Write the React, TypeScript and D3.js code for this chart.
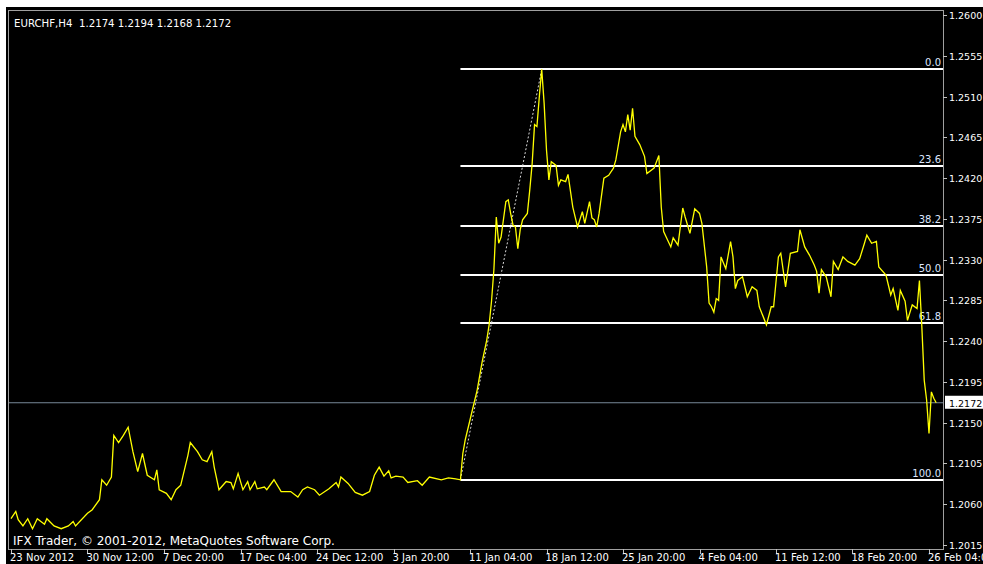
import React from "react";
import * as d3 from "d3";

// H4 close prices (bar index from 23 Nov 2012 00:00)
const barIdx = [
  0, 2, 3, 5, 7, 9, 11, 14, 15, 18, 21, 24, 26, 27, 32, 34, 37, 38, 40, 42,
  43, 45, 47, 49, 51, 53, 55, 57, 60, 61, 62, 65, 67, 69, 71, 74, 75, 78, 80, 82,
  84, 85, 87, 90, 92, 93, 95, 97, 99, 100, 102, 103, 106, 107, 110, 113, 117, 120, 122, 124,
  127, 129, 133, 136, 137, 138, 141, 144, 147, 150, 152, 154, 156, 158, 159, 161, 164, 166, 170, 172,
  175, 180, 183, 186, 188, 189, 190, 193, 195, 197, 199, 200, 201, 202, 203, 204, 205, 207, 208, 209,
  210, 211, 212, 213, 214, 216, 217, 218, 219, 220, 221, 222, 223, 224, 225, 226, 228, 229, 230, 232,
  233, 235, 236, 237, 239, 240, 242, 243, 244, 245, 246, 248, 250, 252, 253, 255, 256, 257, 258, 259,
  260, 261, 263, 265, 266, 269, 271, 272, 273, 276, 277, 279, 281, 282, 284, 286, 288, 289, 291, 292,
  293, 294, 295, 296, 297, 299, 301, 302, 303, 304, 306, 308, 310, 312, 313, 316, 318, 319, 321, 322,
  324, 326, 329, 330, 332, 334, 336, 337, 338, 339, 341, 343, 344, 346, 348, 350, 353, 355, 357, 358,
  360, 362, 363, 366, 368, 369, 371, 372, 374, 375, 377, 379, 380, 381, 382, 383, 384, 385, 386, 387,
];
const closes = [
  1.2044, 1.2052, 1.2043, 1.2036, 1.2044, 1.2033, 1.2044, 1.2038, 1.2044, 1.2036, 1.2033, 1.2036, 1.2041, 1.2036, 1.2050, 1.2054, 1.2065, 1.2087, 1.2081, 1.2090,
  1.2136, 1.2128, 1.2136, 1.2145, 1.2118, 1.2096, 1.2116, 1.2092, 1.2087, 1.2098, 1.2076, 1.2072, 1.2065, 1.2076, 1.2081, 1.2114, 1.2128, 1.2118, 1.2109, 1.2107,
  1.2118, 1.2101, 1.2076, 1.2085, 1.2084, 1.2077, 1.2094, 1.2076, 1.2085, 1.2076, 1.2085, 1.2077, 1.2079, 1.2076, 1.2087, 1.2074, 1.2074, 1.2068, 1.2076, 1.2079,
  1.2076, 1.2070, 1.2077, 1.2084, 1.2079, 1.2090, 1.2083, 1.2073, 1.2070, 1.2074, 1.2092, 1.2101, 1.2091, 1.2097, 1.2089, 1.2091, 1.2090, 1.2084, 1.2086, 1.2081,
  1.2090, 1.2087, 1.2089, 1.2088, 1.2087, 1.2116, 1.2131, 1.2164, 1.2186, 1.2216, 1.2241, 1.2258, 1.2284, 1.2319, 1.2377, 1.2348, 1.2355, 1.2394, 1.2396, 1.2381,
  1.2368, 1.2366, 1.2342, 1.2363, 1.2374, 1.2381, 1.2407, 1.2436, 1.2479, 1.2477, 1.2510, 1.2540, 1.2503, 1.2451, 1.2418, 1.2438, 1.2434, 1.2412, 1.2418, 1.2416,
  1.2424, 1.2388, 1.2377, 1.2366, 1.2383, 1.2370, 1.2394, 1.2376, 1.2374, 1.2366, 1.2381, 1.2420, 1.2423, 1.2431, 1.2440, 1.2471, 1.2479, 1.2471, 1.2490, 1.2473,
  1.2497, 1.2466, 1.2457, 1.2444, 1.2425, 1.2431, 1.2445, 1.2388, 1.2361, 1.2344, 1.2354, 1.2346, 1.2387, 1.2377, 1.2359, 1.2386, 1.2381, 1.2370, 1.2322, 1.2282,
  1.2278, 1.2272, 1.2287, 1.2285, 1.2333, 1.2320, 1.2350, 1.2333, 1.2298, 1.2307, 1.2311, 1.2289, 1.2300, 1.2296, 1.2278, 1.2258, 1.2278, 1.2278, 1.2333, 1.2337,
  1.2300, 1.2337, 1.2339, 1.2363, 1.2344, 1.2335, 1.2324, 1.2317, 1.2293, 1.2319, 1.2311, 1.2289, 1.2328, 1.2319, 1.2333, 1.2328, 1.2324, 1.2331, 1.2348, 1.2357,
  1.2348, 1.2350, 1.2322, 1.2313, 1.2291, 1.2298, 1.2274, 1.2296, 1.2284, 1.2263, 1.2280, 1.2276, 1.2307, 1.2256, 1.2197, 1.2175, 1.2138, 1.2184, 1.2177, 1.2172,
];

const xTickBars = [0, 32, 64, 96, 128, 160, 192, 224, 256, 288, 320, 352, 384];
const xTickLabels = [
  "23 Nov 2012", "30 Nov 12:00", "7 Dec 20:00", "17 Dec 04:00", "24 Dec 12:00", "3 Jan 20:00",
  "11 Jan 04:00", "18 Jan 12:00", "25 Jan 20:00", "4 Feb 04:00", "11 Feb 12:00", "18 Feb 20:00", "26 Feb 04:00",
];
const yTicks = [
  1.2015, 1.2060, 1.2105, 1.2150, 1.2195, 1.2240, 1.2285, 1.2330, 1.2375, 1.2420, 1.2465, 1.2510, 1.2555, 1.2600,
];

// fibonacci retracement, drawn from the low to the high
const fibLevels = [0.0, 23.6, 38.2, 50.0, 61.8, 100.0];
const fibLow = { bar: 188, price: 1.2087 };
const fibHigh = { bar: 222, price: 1.254 };

const lastPrice = 1.2172;
const title = "EURCHF,H4  1.2174 1.2194 1.2168 1.2172";
const copyright = "IFX Trader, \u00a9 2001-2012, MetaQuotes Software Corp.";

const W = 983;
const H = 564;
const left = 8, top = 10, right = 943, bottom = 549;
const font = "'DejaVu Sans', Tahoma, sans-serif";

export default function App() {
  const x = d3.scaleLinear().domain([0, 384]).range([11, 929]);
  const y = d3.scaleLinear().domain([1.2015, 1.26]).range([545, 15]);

  const line = d3
    .line<number>()
    .x((d, i) => x(barIdx[i]))
    .y((d) => y(d));

  const fibPrice = (lvl: number) => fibHigh.price - ((fibHigh.price - fibLow.price) * lvl) / 100;

  return (
    <svg
      width={W}
      height={H}
      style={{ position: "absolute", left: 0, top: 0, fontFamily: font }}
    >
      <rect x={0} y={0} width={W} height={H} fill="#ffffff" />
      <rect x={6} y={7} width={W - 6} height={H - 7} fill="#000000" />

      {/* current price line */}
      <line x1={left} x2={right} y1={y(lastPrice)} y2={y(lastPrice)} stroke="#778899" strokeWidth={1} />

      {/* fib levels */}
      {fibLevels.map((lvl) => {
        const yy = Math.round(y(fibPrice(lvl)));
        return (
          <g key={lvl}>
            <line x1={x(fibLow.bar)} x2={right} y1={yy} y2={yy} stroke="#ffffff" strokeWidth={2} />
            <text x={941} y={yy - 3} fill="#dde6ff" fontSize={10} textAnchor="end">
              {lvl.toFixed(1)}
            </text>
          </g>
        );
      })}

      {/* trend line of the fib */}
      <line
        x1={x(fibLow.bar)}
        y1={y(fibLow.price)}
        x2={x(fibHigh.bar)}
        y2={y(fibHigh.price)}
        stroke="#d8d8d8"
        strokeWidth={1}
        strokeDasharray="2,2"
      />

      <path d={line(closes) || ""} fill="none" stroke="#ffff00" strokeWidth={1.3} />

      {/* frame */}
      <rect x={left + 0.5} y={top + 0.5} width={right - left} height={bottom - top} fill="none" stroke="#a0a0a0" />

      {/* right axis */}
      {yTicks.map((t) => (
        <g key={t}>
          <line x1={right} x2={right + 4} y1={Math.round(y(t)) + 0.5} y2={Math.round(y(t)) + 0.5} stroke="#c0c0c0" />
          <text x={949} y={y(t) + 4} fill="#ffffff" fontSize={9.5}>
            {t.toFixed(4)}
          </text>
        </g>
      ))}
      <rect x={945} y={y(lastPrice) - 7} width={W - 945} height={13} fill="#ffffff" />
      <text x={949} y={y(lastPrice) + 4} fill="#000000" fontSize={9.5}>
        {lastPrice.toFixed(4)}
      </text>

      {/* bottom axis */}
      {xTickBars.map((b, i) => (
        <g key={b}>
          <line x1={Math.round(x(b)) + 0.5} x2={Math.round(x(b)) + 0.5} y1={bottom} y2={bottom + 5} stroke="#c0c0c0" />
          <text x={x(b) - 1} y={561} fill="#ffffff" fontSize={10}>
            {xTickLabels[i]}
          </text>
        </g>
      ))}

      <text x={14} y={27} fill="#ffffff" fontSize={10.2} style={{ whiteSpace: "pre" }}>
        {title}
      </text>
      <text x={13} y={545} fill="#ffffff" fontSize={12}>
        {copyright}
      </text>
    </svg>
  );
}
